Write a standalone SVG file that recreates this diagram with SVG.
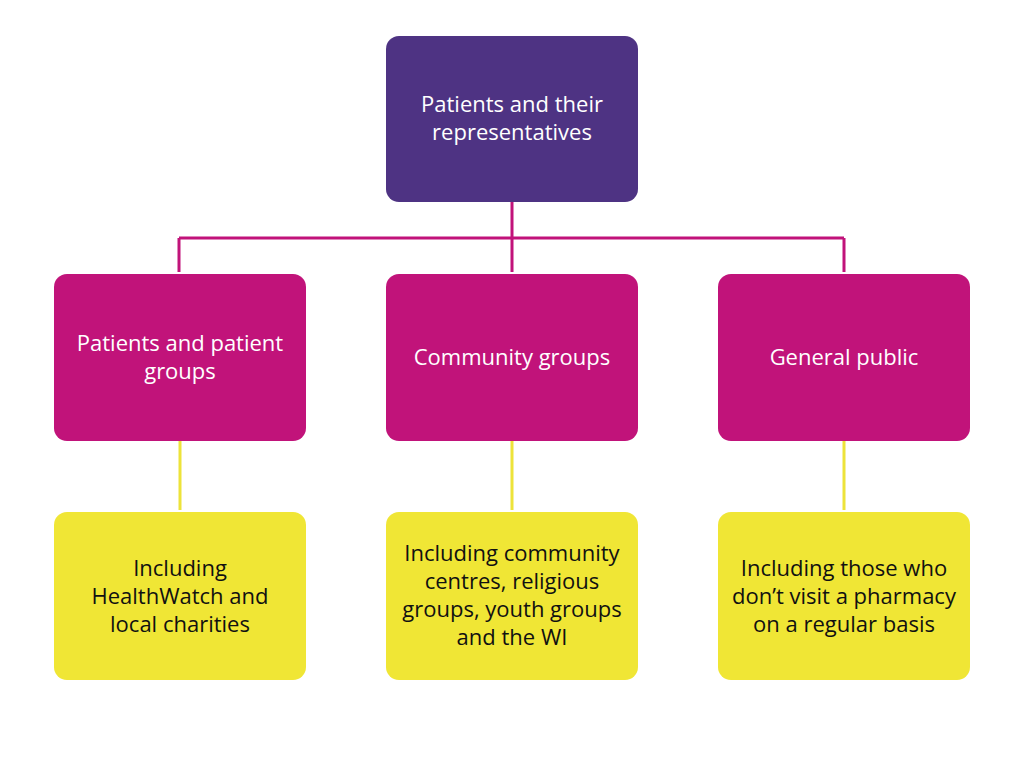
<svg xmlns="http://www.w3.org/2000/svg" width="1024" height="768" viewBox="0 0 1024 768">
<style>
.box{stroke:none}
.top{fill:#4E3383}
.mid{fill:#C1137A}
.bot{fill:#F0E635}
text{font-family:"Open Sans","Noto Sans",sans-serif;font-size:22px;text-anchor:middle}
.w{fill:#FFFFFF}
.k{fill:#111111}
.cm{stroke:#C1137A;stroke-width:3;fill:none}
.cy{stroke:#EDE33A;stroke-width:3;fill:none}
</style>
<rect width="1024" height="768" fill="#FFFFFF"/>
<g id="connectors">
<path class="cm" d="M512 202V272M179 238H844M179 238V272M844 238V272"/>
<path class="cy" d="M180 441V510M512 441V510M844 441V510"/>
</g>
<g id="n-top"><rect class="box top" x="386" y="36" width="252" height="166" rx="13"/>
<text class="w" x="512" y="112">Patients and their</text><text class="w" x="512" y="140">representatives</text></g>
<g id="n-patients"><rect class="box mid" x="54" y="274" width="252" height="167" rx="13"/>
<text class="w" x="180" y="351">Patients and patient</text><text class="w" x="180" y="379">groups</text></g>
<g id="n-community"><rect class="box mid" x="386" y="274" width="252" height="167" rx="13"/>
<text class="w" x="512" y="365">Community groups</text></g>
<g id="n-public"><rect class="box mid" x="718" y="274" width="252" height="167" rx="13"/>
<text class="w" x="844" y="365">General public</text></g>
<g id="n-patients-inc"><rect class="box bot" x="54" y="512" width="252" height="168" rx="13"/>
<text class="k" x="180" y="576">Including</text><text class="k" x="180" y="604">HealthWatch and</text><text class="k" x="180" y="632">local charities</text></g>
<g id="n-community-inc"><rect class="box bot" x="386" y="512" width="252" height="168" rx="13"/>
<text class="k" x="512" y="561">Including community</text><text class="k" x="512" y="589">centres, religious</text><text class="k" x="512" y="617">groups, youth groups</text><text class="k" x="512" y="645">and the WI</text></g>
<g id="n-public-inc"><rect class="box bot" x="718" y="512" width="252" height="168" rx="13"/>
<text class="k" x="844" y="576">Including those who</text><text class="k" x="844" y="604">don’t visit a pharmacy</text><text class="k" x="844" y="632">on a regular basis</text></g>
</svg>
